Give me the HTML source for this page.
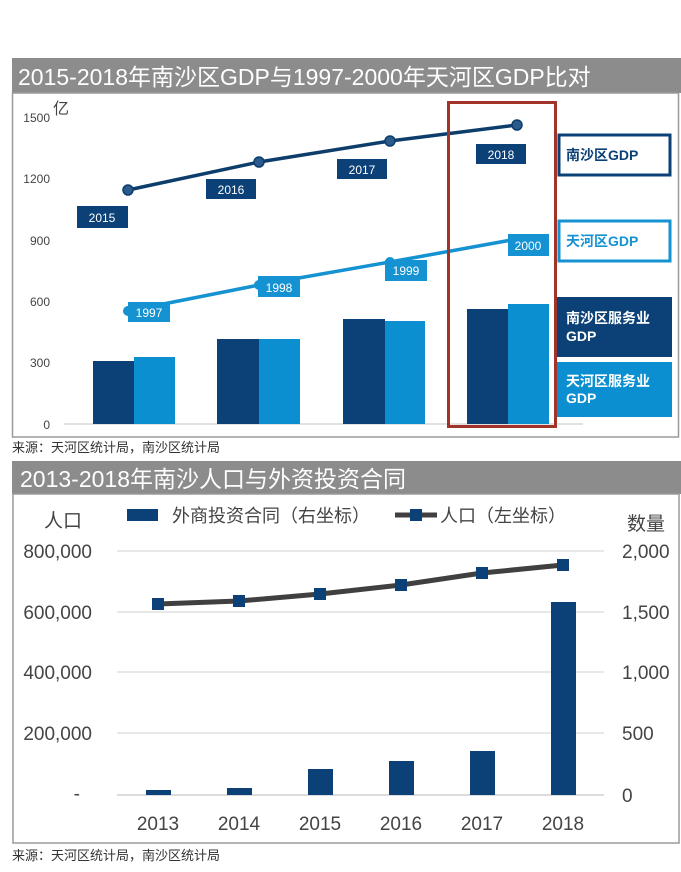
<!DOCTYPE html>
<html><head><meta charset="utf-8"><style>
body{margin:0;background:#fff;}
svg{display:block;font-family:"Liberation Sans","Noto Sans CJK SC",sans-serif;}
</style></head><body>
<svg width="681" height="872" viewBox="0 0 681 872" xmlns="http://www.w3.org/2000/svg">
<!-- Chart 1 -->
<rect x="12" y="58" width="669" height="35" fill="#8c8c8c"/>
<text x="18" y="85" font-size="23" fill="#fff">2015-2018年南沙区GDP与1997-2000年天河区GDP比对</text>
<rect x="12.5" y="93" width="666" height="344" fill="#fff" stroke="#9a9a9a" stroke-width="1.5"/>
<g font-size="12" fill="#444" text-anchor="end">
<text x="50" y="122">1500</text><text x="50" y="183">1200</text><text x="50" y="245">900</text>
<text x="50" y="306">600</text><text x="50" y="367">300</text><text x="50" y="429">0</text>
</g>
<text x="53" y="114" font-size="16" fill="#444">亿</text>
<line x1="64" y1="424" x2="583" y2="424" stroke="#d9d9d9" stroke-width="1.5"/>
<g fill="#0c4178">
<rect x="93" y="361" width="41" height="63"/><rect x="217" y="339" width="42" height="85"/>
<rect x="343" y="319" width="42" height="105"/><rect x="467" y="309" width="41" height="115"/>
</g>
<g fill="#0b8fd0">
<rect x="134" y="357" width="41" height="67"/><rect x="259" y="339" width="41" height="85"/>
<rect x="385" y="321" width="40" height="103"/><rect x="508" y="304" width="41" height="120"/>
</g>
<polyline points="128,311 259,285 390,262 517,239" fill="none" stroke="#1492d1" stroke-width="3.5"/>
<g fill="#1492d1"><circle cx="128" cy="311" r="5"/><circle cx="259" cy="285" r="5"/><circle cx="390" cy="262" r="5"/><circle cx="517" cy="239" r="5"/></g>
<polyline points="128,190 259,162 390,141 517,125" fill="none" stroke="#0d3d6b" stroke-width="3.5"/>
<g fill="#2a5b8c" stroke="#0d3d6b" stroke-width="1.5"><circle cx="128" cy="190" r="5"/><circle cx="259" cy="162" r="5"/><circle cx="390" cy="141" r="5"/><circle cx="517" cy="125" r="5"/></g>
<g font-size="12" fill="#fff" text-anchor="middle">
<rect x="77" y="206" width="51" height="22" fill="#0c4178"/><text x="102" y="222">2015</text>
<rect x="206" y="179" width="50" height="20" fill="#0c4178"/><text x="231" y="194">2016</text>
<rect x="337" y="159" width="50" height="20" fill="#0c4178"/><text x="362" y="174">2017</text>
<rect x="476" y="144" width="50" height="20" fill="#0c4178"/><text x="501" y="159">2018</text>
<rect x="128" y="302" width="42" height="20" fill="#1492d1"/><text x="149" y="317">1997</text>
<rect x="258" y="276" width="42" height="21" fill="#1492d1"/><text x="279" y="292">1998</text>
<rect x="385" y="260" width="42" height="21" fill="#1492d1"/><text x="406" y="275">1999</text>
<rect x="508" y="234" width="41" height="22" fill="#1492d1"/><text x="528" y="250">2000</text>
</g>
<rect x="448.5" y="102.5" width="107" height="324" fill="none" stroke="#a23329" stroke-width="3"/>
<rect x="559" y="135" width="111" height="40" fill="#fff" stroke="#0c4178" stroke-width="3"/>
<text x="566" y="160" font-size="14" font-weight="bold" fill="#0c4178">南沙区GDP</text>
<rect x="559" y="221" width="111" height="40" fill="#fff" stroke="#1492d1" stroke-width="3"/>
<text x="566" y="246" font-size="14" font-weight="bold" fill="#1492d1">天河区GDP</text>
<rect x="557" y="297" width="115" height="60" fill="#0c4178"/>
<text x="566" y="323" font-size="14" font-weight="bold" fill="#fff">南沙区服务业</text>
<text x="566" y="341" font-size="14" font-weight="bold" fill="#fff">GDP</text>
<rect x="557" y="362" width="115" height="55" fill="#0b8fd0"/>
<text x="566" y="386" font-size="14" font-weight="bold" fill="#fff">天河区服务业</text>
<text x="566" y="403" font-size="14" font-weight="bold" fill="#fff">GDP</text>
<text x="12" y="452" font-size="13" fill="#333">来源：天河区统计局，南沙区统计局</text>

<!-- Chart 2 -->
<rect x="12" y="461" width="669" height="33" fill="#8c8c8c"/>
<text x="20" y="487" font-size="23" fill="#fff">2013-2018年南沙人口与外资投资合同</text>
<rect x="13" y="494" width="666" height="349" fill="#fff" stroke="#9a9a9a" stroke-width="1.5"/>
<g stroke="#e0e0e0" stroke-width="1.5">
<line x1="117" y1="551" x2="604" y2="551"/><line x1="117" y1="612" x2="604" y2="612"/>
<line x1="117" y1="672" x2="604" y2="672"/><line x1="117" y1="733" x2="604" y2="733"/>
<line x1="117" y1="795" x2="604" y2="795" stroke="#d0d0d0"/>
</g>
<g font-size="19" fill="#444" text-anchor="end">
<text x="92" y="558">800,000</text><text x="92" y="619">600,000</text><text x="92" y="679">400,000</text>
<text x="92" y="740">200,000</text><text x="80" y="800">-</text>
</g>
<g font-size="19" fill="#444">
<text x="622" y="558">2,000</text><text x="622" y="619">1,500</text><text x="622" y="679">1,000</text>
<text x="622" y="740">500</text><text x="622" y="802">0</text>
</g>
<text x="44" y="527" font-size="19" fill="#444">人口</text>
<text x="627" y="530" font-size="19" fill="#444">数量</text>
<rect x="127" y="509" width="31" height="12" fill="#0c4178"/>
<text x="172" y="522" font-size="18" fill="#444">外商投资合同（右坐标）</text>
<line x1="395" y1="515" x2="437" y2="515" stroke="#404040" stroke-width="5"/>
<rect x="410" y="509" width="12" height="12" fill="#0c4178"/>
<text x="440" y="522" font-size="18" fill="#444">人口（左坐标）</text>
<g fill="#0c4178">
<rect x="146" y="790" width="25" height="5"/><rect x="227" y="788" width="25" height="7"/>
<rect x="308" y="769" width="25" height="26"/><rect x="389" y="761" width="25" height="34"/>
<rect x="470" y="751" width="25" height="44"/><rect x="551" y="602" width="25" height="193"/>
</g>
<polyline points="158,604 239,601 320,594 401,585 482,573 563,565" fill="none" stroke="#404040" stroke-width="5" stroke-linejoin="round"/>
<g fill="#0c4178">
<rect x="152" y="598" width="12" height="12"/><rect x="233" y="595" width="12" height="12"/>
<rect x="314" y="588" width="12" height="12"/><rect x="395" y="579" width="12" height="12"/>
<rect x="476" y="567" width="12" height="12"/><rect x="557" y="559" width="12" height="12"/>
</g>
<g font-size="19" fill="#444" text-anchor="middle">
<text x="158" y="830">2013</text><text x="239" y="830">2014</text><text x="320" y="830">2015</text>
<text x="401" y="830">2016</text><text x="482" y="830">2017</text><text x="563" y="830">2018</text>
</g>
<text x="12" y="860" font-size="13" fill="#333">来源：天河区统计局，南沙区统计局</text>
</svg>
</body></html>
